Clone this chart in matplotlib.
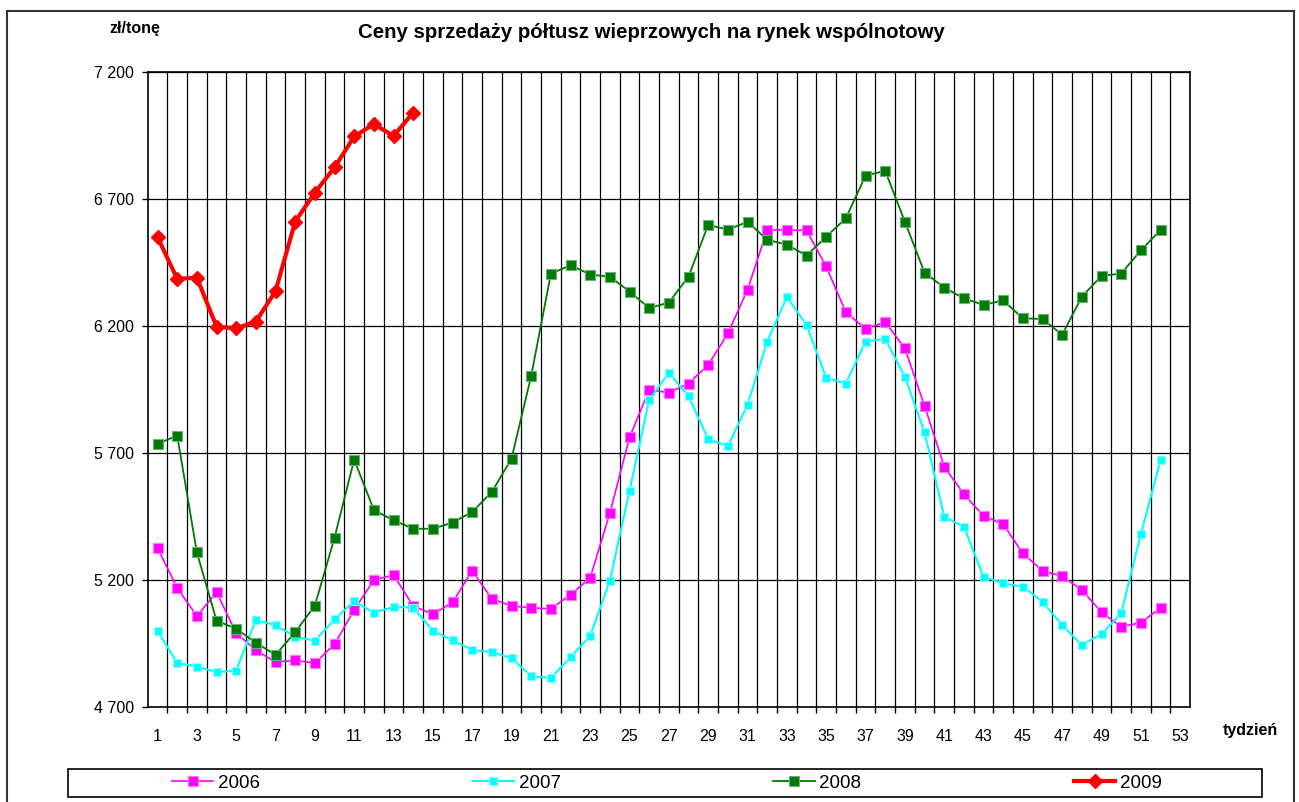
import numpy as np
import matplotlib
matplotlib.use("Agg")
import matplotlib.pyplot as plt
from matplotlib.patches import Rectangle
from matplotlib.ticker import FuncFormatter

plt.rcParams['font.family'] = ['Liberation Sans', 'DejaVu Sans']

# tygodnie
weeks = list(range(1, 53))
weeks_2009 = list(range(1, 15))

# ceny zl/tone
ceny_2006 = [5325, 5168, 5057, 5151, 4990, 4923, 4875, 4883, 4871, 4947,
             5081, 5199, 5219, 5097, 5064, 5111, 5235, 5125, 5097, 5090,
             5085, 5141, 5208, 5462, 5761, 5948, 5937, 5973, 6046, 6170,
             6342, 6578, 6578, 6576, 6434, 6254, 6188, 6215, 6112, 5886,
             5646, 5537, 5452, 5419, 5304, 5235, 5214, 5160, 5072, 5015,
             5031, 5089]
ceny_2007 = [4998, 4873, 4858, 4836, 4842, 5042, 5021, 4976, 4960, 5044,
             5115, 5070, 5093, 5090, 4999, 4962, 4923, 4915, 4891, 4820,
             4813, 4895, 4979, 5196, 5551, 5908, 6016, 5923, 5754, 5727,
             5889, 6138, 6314, 6204, 5996, 5973, 6138, 6149, 6000, 5781,
             5449, 5409, 5212, 5186, 5173, 5113, 5021, 4943, 4986, 5068,
             5379, 5671]
ceny_2008 = [5735, 5768, 5308, 5039, 5007, 4952, 4904, 4994, 5098, 5366,
             5673, 5475, 5434, 5401, 5401, 5425, 5467, 5546, 5677, 6003,
             6405, 6439, 6402, 6394, 6335, 6270, 6292, 6394, 6598, 6579,
             6610, 6539, 6520, 6477, 6551, 6624, 6791, 6811, 6611, 6410,
             6351, 6308, 6283, 6300, 6230, 6227, 6165, 6315, 6397, 6406,
             6497, 6578]
ceny_2009 = [6550, 6385, 6390, 6197, 6190, 6217, 6337, 6611, 6725, 6824,
             6946, 6995, 6948, 7040]

W, H = 1299, 802
fig = plt.figure(figsize=(W / 100, H / 100), dpi=100)
ax = fig.add_axes([147.7 / W, 1 - 706.7 / H, (1190 - 147.7) / W, (706.7 - 72) / H])

l06, = ax.plot(weeks, ceny_2006, color='#FF00FF', lw=1.2, marker='s', ms=7.5,
               mfc='#FF00FF', mec='#FF77FF', mew=0.8, label='2006')
l07, = ax.plot(weeks, ceny_2007, color='#00FFFF', lw=1.5, marker='s', ms=6,
               mfc='#00FFFF', mec='#88FFFF', mew=0.8, label='2007')
l08, = ax.plot(weeks, ceny_2008, color='#007A00', lw=1.3, marker='s', ms=7.5,
               mfc='#007A00', mec='#66B07A', mew=0.8, label='2008')
l09, = ax.plot(weeks_2009, ceny_2009, color='#FF0000', lw=3, marker='D', ms=7.5,
               mfc='#FF0000', mec='#FF0000', label='2009')

ax.set_xlim(0.5, 53.5)
ax.set_ylim(4700, 7200)
ax.set_xticks(range(1, 54, 2))
ax.set_xticks(np.arange(1.5, 53.5, 1), minor=True)
ax.set_yticks(range(4700, 7201, 500))
ax.yaxis.set_major_formatter(FuncFormatter(lambda v, p: f"{int(v):,}".replace(",", " ")))

ax.tick_params(axis='x', which='major', length=0, pad=16, labelsize=11.5)
ax.tick_params(axis='x', which='minor', length=4, width=1, direction='out')
ax.tick_params(axis='y', which='major', length=4, width=1, direction='out', pad=6, labelsize=11.5)

ax.grid(True, axis='x', which='minor', color='black', lw=0.9)
ax.grid(True, axis='y', which='major', color='black', lw=0.9)
ax.set_axisbelow(True)
for s in ax.spines.values():
    s.set_linewidth(1.2)

fig.text(651 / W, 1 - 32 / H, "Ceny sprzedaży półtusz wieprzowych na rynek wspólnotowy",
         ha='center', va='center', fontsize=14.7, fontweight='bold')
fig.text(135 / W, 1 - 28 / H, "zł/tonę", ha='center', va='center', fontsize=11.5, fontweight='bold')
fig.text(1250 / W, 1 - 730 / H, "tydzień", ha='center', va='center', fontsize=11.5, fontweight='bold')

# ramka wykresu i legendy
fig.patches.append(Rectangle((7 / W, -0.02), (1294 - 7) / W, 1 - 10.7 / H + 0.02,
                             transform=fig.transFigure, fill=False, lw=1.5, ec='#333333'))
fig.patches.append(Rectangle((68.3 / W, 1 - 797.3 / H), (1262.3 - 68.3) / W, 28 / H,
                             transform=fig.transFigure, fill=False, lw=1.2, ec='black'))

fig.legend(handles=[l06, l07, l08, l09], ncol=4, mode='expand', frameon=False,
           bbox_to_anchor=(172 / W, 1 - 797.3 / H, (1162 - 172) / W, 28 / H),
           loc='center', borderpad=0, borderaxespad=0, handlelength=2.2,
           handletextpad=0.25, fontsize=13.5)

fig.savefig("out.png", dpi=100)
